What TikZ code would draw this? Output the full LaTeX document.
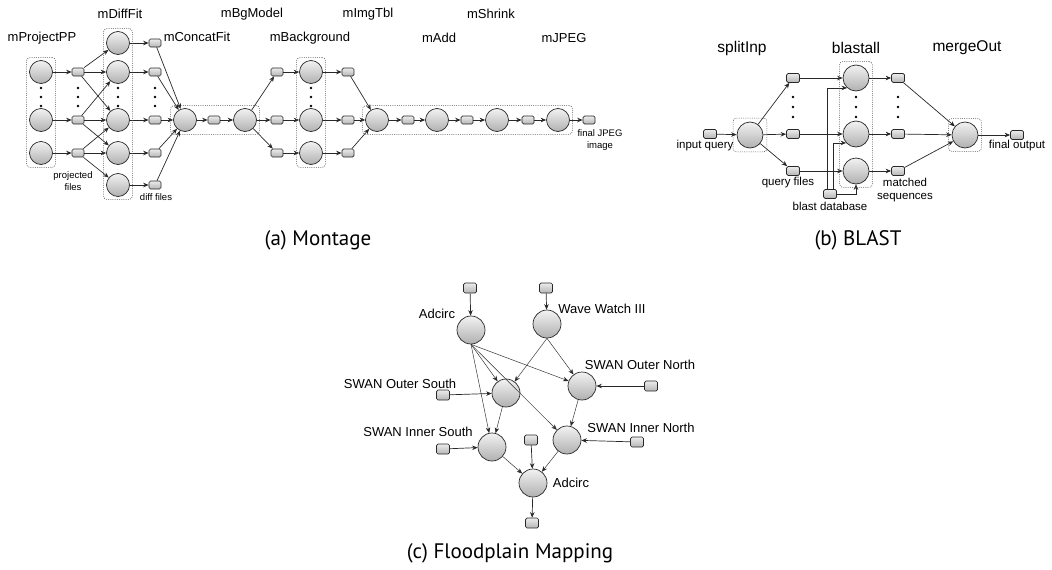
\documentclass[tikz,border=0pt]{standalone}
\usepackage{fontspec}
\setmainfont{Liberation Sans}
\newfontfamily\capfont{PT Sans}
\usepackage{tikz}
\usetikzlibrary{positioning, arrows.meta, fit}
\definecolor{wfline}{RGB}{40, 40, 40}
\definecolor{wfgrid}{RGB}{85, 85, 85}
\tikzset{
    job/.style={circle, draw=wfline, line width=0.7pt, top color=gray!10, bottom color=gray!62, minimum size=23pt, inner sep=0pt},
    bigjob/.style={job, minimum size=26pt},
    hugejob/.style={job, minimum size=28pt},
    datafile/.style={rectangle, rounded corners=1.5pt, draw=wfline, line width=0.7pt, top color=gray!15, bottom color=gray!58, minimum width=12pt, minimum height=8pt, inner sep=0pt},
    bigfile/.style={datafile, minimum width=13pt, minimum height=9pt},
    hugefile/.style={datafile, minimum width=13pt, minimum height=10pt},
    flow/.style={-{Stealth[length=5.5pt,width=4.5pt]}, line width=0.7pt, draw=wfline},
    thinflow/.style={flow, line width=0.45pt},
    jobgroup/.style={draw=wfgrid, line width=0.55pt, dash pattern=on 1pt off 1.2pt, rounded corners=3pt, inner sep=2.5pt},
    stage/.style={font=\fontsize{13}{15}\selectfont},
    bstage/.style={font=\fontsize{15.5}{18}\selectfont},
    note/.style={font=\fontsize{9.5}{11.5}\selectfont, align=center},
    bnote/.style={font=\fontsize{11.5}{13.5}\selectfont, align=center},
    subcap/.style={font=\capfont\fontsize{21}{25}\selectfont}
}

\begin{document}
\begin{tikzpicture}[x=1pt, y=-1pt]
    \useasboundingbox (0,0) rectangle (1052,570);

    % (a) Montage
    \foreach \i/\y in {1/72,2/120,3/153}{
        \node[job] (pp\i) at (41,\y) {};
        \node[datafile] (ppf\i) at (78,\y) {};
        \draw[flow] (pp\i) -- (ppf\i);
    }
    \foreach \i/\y in {1/43,2/72,3/120,4/153,5/185}{
        \node[job] (df\i) at (118,\y) {};
        \node[datafile] (dff\i) at (155,\y) {};
        \draw[flow] (df\i) -- (dff\i);
    }
    \foreach \a/\b in {1/1,1/2,1/3,2/2,2/3,2/4,3/3,3/4,3/5}
        \draw[flow] (ppf\a) -- (df\b);
    \node[job] (cf) at (185,120) {};
    \node[datafile] (cff) at (214,120) {};
    \node[job] (bm) at (245,120) {};
    \foreach \i in {1,...,5}
        \draw[flow] (dff\i) -- (cf);
    \draw[flow] (cf) -- (cff);
    \draw[flow] (cff) -- (bm);
    \foreach \i/\y in {1/72,2/120,3/153}{
        \node[datafile] (bmf\i) at (277,\y) {};
        \node[job] (bg\i) at (311,\y) {};
        \node[datafile] (bgf\i) at (348,\y) {};
        \draw[flow] (bm) -- (bmf\i);
        \draw[flow] (bmf\i) -- (bg\i);
        \draw[flow] (bg\i) -- (bgf\i);
    }
    \node[job] (it) at (377,120) {};
    \node[datafile] (itf) at (408,120) {};
    \node[job] (ad) at (437,120) {};
    \node[datafile] (adf) at (467,120) {};
    \node[job] (sh) at (497,120) {};
    \node[datafile] (shf) at (528,120) {};
    \node[job] (jp) at (558,120) {};
    \node[datafile] (jpf) at (589,120) {};
    \foreach \i in {1,2,3}
        \draw[flow] (bgf\i) -- (it);
    \draw[flow] (it) -- (itf);
    \draw[flow] (itf) -- (ad);
    \draw[flow] (ad) -- (adf);
    \draw[flow] (adf) -- (sh);
    \draw[flow] (sh) -- (shf);
    \draw[flow] (shf) -- (jp);
    \draw[flow] (jp) -- (jpf);
    \foreach \x in {41,78,118,155,311}
        \foreach \y in {88,97,106}
            \fill (\x,\y) circle (1.3);
    \node[jobgroup, fit=(pp1)(pp3)] {};
    \node[jobgroup, fit=(df1)(df5)] {};
    \node[jobgroup, fit=(cf)(bm)] {};
    \node[jobgroup, fit=(bg1)(bg3)] {};
    \node[jobgroup, fit=(it)(jp)] {};
    \node[stage] at (42,38) {mProjectPP};
    \node[stage] at (120,14) {mDiffFit};
    \node[stage] at (197,37) {mConcatFit};
    \node[stage] at (252,14) {mBgModel};
    \node[stage] at (310,38) {mBackground};
    \node[stage] at (368,14) {mImgTbl};
    \node[stage] at (439,38) {mAdd};
    \node[stage] at (491,14) {mShrink};
    \node[stage] at (564,38) {mJPEG};
    \node[note] at (73,181) {projected\\files};
    \node[note] at (156,197) {diff files};
    \node[note] at (600,140) {final JPEG\\image};
    \node[subcap] at (318,240) {(a) Montage};

    % (b) BLAST
    \node[bigfile] (inq) at (710,134) {};
    \node[bigjob] (split) at (750,135) {};
    \draw[flow] (inq) -- (split);
    \node[bigjob] (merge) at (965,135) {};
    \node[bigfile] (out) at (1017,135) {};
    \foreach \i/\y in {1/78,2/134,3/171}{
        \node[bigfile] (qf\i) at (793,\y) {};
        \node[bigjob] (bl\i) at (856,\y) {};
        \node[bigfile] (mf\i) at (898,\y) {};
        \draw[flow] (split) -- (qf\i);
        \draw[flow] (qf\i) -- (bl\i);
        \draw[flow] (bl\i) -- (mf\i);
        \draw[flow] (mf\i) -- (merge);
    }
    \draw[flow] (merge) -- (out);
    \node[bigfile] (db) at (830,194) {};
    \draw[flow] ([xshift=-3pt]db.north) |- (bl1.228);
    \draw[flow] ([xshift=3pt]db.north) |- (bl2.222);
    \draw[flow] (db.east) -| (bl3.south);
    \foreach \x in {793,856,898}
        \foreach \y in {97,107,117}
            \fill (\x,\y) circle (1.4);
    \node[jobgroup, inner sep=3.5pt, fit=(split)] {};
    \node[jobgroup, inner sep=3pt, fit=(bl1)(bl3)] {};
    \node[jobgroup, inner sep=3pt, fit=(merge)] {};
    \node[bstage] at (742,48) {splitInp};
    \node[bstage] at (856,48) {blastall};
    \node[bstage] at (967,48) {mergeOut};
    \node[bnote] at (705,146) {input query};
    \node[bnote] at (788,183) {query files};
    \node[bnote] at (830,206) {blast database};
    \node[bnote] at (905,190) {matched\\sequences};
    \node[bnote] at (1017,146) {final output};
    \node[subcap] at (858,240) {(b) BLAST};

    % (c) Floodplain Mapping
    \node[hugefile] (fin1) at (470,288) {};
    \node[hugejob] (ad1) at (471,330) {};
    \node[hugefile] (fin2) at (546,288) {};
    \node[hugejob] (ww) at (547,324) {};
    \node[hugejob] (on) at (582,386) {};
    \node[hugefile] (onf) at (651,386) {};
    \node[hugejob] (os) at (506,393) {};
    \node[hugefile] (osf) at (443,395) {};
    \node[hugejob] (is) at (492,447) {};
    \node[hugefile] (isf) at (443,449) {};
    \node[hugejob] (inn) at (567,440) {};
    \node[hugefile] (innf) at (637,442) {};
    \node[hugefile] (ad2f) at (531,440) {};
    \node[hugejob] (ad2) at (533,483) {};
    \node[hugefile] (outf) at (532,523) {};
    \draw[flow] (fin1) -- (ad1);
    \draw[flow] (fin2) -- (ww);
    \foreach \t in {os,on,is,inn}
        \draw[thinflow] (ad1.south) -- (\t);
    \draw[thinflow] (ww.south) -- (os);
    \draw[thinflow] (ww.south) -- (on);
    \draw[flow] (osf) -- (os);
    \draw[flow] (isf) -- (is);
    \draw[flow] (onf) -- (on);
    \draw[flow] (innf) -- (inn);
    \draw[thinflow] (os) -- (is);
    \draw[thinflow] (on) -- (inn);
    \draw[thinflow] (is) -- (ad2);
    \draw[thinflow] (inn) -- (ad2);
    \draw[flow] (ad2f) -- (ad2);
    \draw[flow] (ad2) -- (outf);
    \node[stage] at (437,314) {Adcirc};
    \node[stage] at (602,309) {Wave Watch III};
    \node[stage] at (640,365) {SWAN Outer North};
    \node[stage] at (400,384) {SWAN Outer South};
    \node[stage] at (418,432) {SWAN Inner South};
    \node[stage] at (641,428) {SWAN Inner North};
    \node[stage] at (571,483) {Adcirc};
    \node[subcap] at (510,553) {(c) Floodplain Mapping};
\end{tikzpicture}
\end{document}
